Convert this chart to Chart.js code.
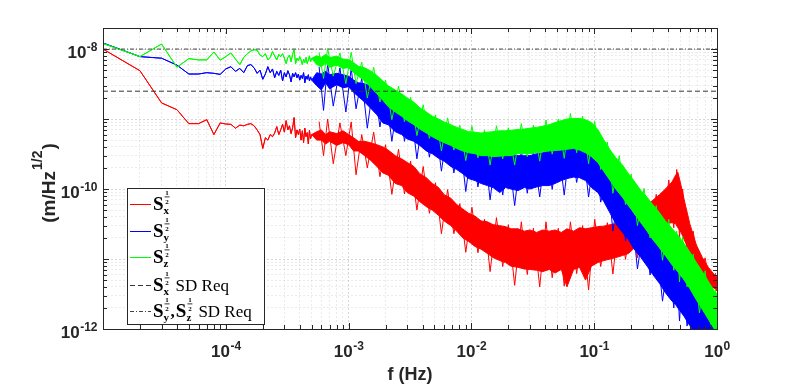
<!DOCTYPE html>
<html>
<head>
<meta charset="utf-8">
<script src="https://cdn.jsdelivr.net/npm/chart.js@4.4.1/dist/chart.umd.min.js"></script>
<style>
  html, body { margin: 0; padding: 0; background: #fff; }
  #chart { display: block; }
</style>
</head>
<body>
<canvas id="chart" width="793" height="387"></canvas>
<script>
// low frequency bins (1e-5 Hz resolution), single noisy line per axis
var lowFreq = [1e-5, 2e-5, 3e-5, 4e-5, 5e-5, 6e-5, 7e-5, 8e-5, 9e-5, 1e-4,
  1.1e-4, 1.2e-4, 1.3e-4, 1.4e-4, 1.5e-4, 1.6e-4, 1.7e-4, 1.8e-4, 1.9e-4, 2e-4,
  2.1e-4, 2.2e-4, 2.3e-4, 2.4e-4, 2.5e-4, 2.6e-4, 2.7e-4, 2.8e-4, 2.9e-4, 3e-4,
  3.1e-4, 3.2e-4, 3.3e-4, 3.4e-4, 3.5e-4, 3.6e-4, 3.7e-4, 3.8e-4, 3.9e-4, 4e-4,
  4.1e-4, 4.2e-4, 4.3e-4, 4.4e-4, 4.5e-4, 4.6e-4, 4.7e-4, 4.8e-4, 4.9e-4, 5e-4];

var redLow = [1.0e-8, 4.9e-9, 1.7e-9, 1.36e-9, 8.6e-10, 8.6e-10, 9.8e-10, 6.0e-10, 8.8e-10, 8.5e-10,
  8.4e-10, 7.4e-10, 8.2e-10, 8.0e-10, 8.4e-10, 8.6e-10, 8.0e-10, 7.0e-10, 6.0e-10, 3.8e-10,
  5.4e-10, 5.0e-10, 6.0e-10, 5.6e-10, 6.3e-10, 7.8e-10, 6.0e-10, 7.0e-10, 8.4e-10, 6.5e-10,
  9.5e-10, 7.0e-10, 8.0e-10, 6.2e-10, 7.5e-10, 1.05e-9, 5.4e-10, 7.0e-10, 6.0e-10, 7.2e-10,
  5.0e-10, 6.8e-10, 4.6e-10, 7.4e-10, 5.6e-10, 6.4e-10, 4.4e-10, 6.9e-10, 5.2e-10, 6.0e-10];

var blueLow = [1.22e-8, 7.8e-9, 7.4e-9, 5.9e-9, 4.4e-9, 4.4e-9, 4.6e-9, 4.5e-9, 4.35e-9, 5.2e-9,
  5.6e-9, 4.8e-9, 5.3e-9, 4.6e-9, 5.8e-9, 6.0e-9, 5.4e-9, 4.5e-9, 5.0e-9, 3.7e-9,
  4.4e-9, 5.6e-9, 4.6e-9, 5.2e-9, 3.9e-9, 4.8e-9, 4.2e-9, 5.0e-9, 3.5e-9, 4.6e-9,
  4.0e-9, 4.9e-9, 4.3e-9, 3.4e-9, 4.5e-9, 4.0e-9, 4.6e-9, 3.9e-9, 4.4e-9, 3.6e-9,
  4.2e-9, 3.8e-9, 4.6e-9, 3.3e-9, 4.1e-9, 3.7e-9, 4.3e-9, 3.5e-9, 4.0e-9, 3.6e-9];

var greenLow = [1.2e-8, 7.8e-9, 1.18e-8, 5.5e-9, 7.3e-9, 7.0e-9, 7.0e-9, 9.1e-9, 6.95e-9, 7.8e-9,
  8.8e-9, 7.2e-9, 6.0e-9, 7.6e-9, 8.6e-9, 9.4e-9, 9.8e-9, 9.6e-9, 8.2e-9, 7.8e-9,
  8.6e-9, 7.0e-9, 7.6e-9, 9.2e-9, 8.0e-9, 7.0e-9, 8.4e-9, 7.8e-9, 8.6e-9, 7.4e-9,
  6.2e-9, 7.6e-9, 8.2e-9, 6.6e-9, 8.4e-9, 9.8e-9, 6.2e-9, 7.4e-9, 6.8e-9, 7.8e-9,
  7.0e-9, 6.0e-9, 7.2e-9, 6.4e-9, 7.6e-9, 6.2e-9, 6.9e-9, 8.0e-9, 6.6e-9, 7.4e-9];

// higher frequencies: the trace is a dense band, kept as upper / lower envelope
var bandFreq = [5.5e-4, 6e-4, 6.5e-4, 7e-4, 8e-4, 9e-4,
  1e-3, 1.1e-3, 1.2e-3, 1.35e-3, 1.5e-3, 1.7e-3, 1.9e-3, 2.1e-3, 2.4e-3, 2.7e-3, 3e-3,
  3.4e-3, 3.8e-3, 4.3e-3, 4.8e-3, 5.4e-3, 6e-3, 6.8e-3, 7.6e-3, 8.5e-3, 9.5e-3,
  1.07e-2, 1.2e-2, 1.35e-2, 1.5e-2, 1.7e-2, 1.9e-2, 2.1e-2, 2.4e-2, 2.7e-2, 3e-2,
  3.4e-2, 3.8e-2, 4.3e-2, 4.8e-2, 5.4e-2, 6e-2, 6.8e-2, 7.6e-2, 8.5e-2, 9.5e-2,
  0.107, 0.12, 0.135, 0.15, 0.17, 0.19, 0.21, 0.24, 0.27, 0.30,
  0.34, 0.38, 0.43, 0.46, 0.48, 0.51, 0.54, 0.60, 0.68, 0.76, 0.85, 0.95, 1.0];

var redUpper = [6.6e-10, 7.0e-10, 6.0e-10, 6.6e-10, 6.2e-10, 6.8e-10,
  6.0e-10, 5.4e-10, 4.8e-10, 4.8e-10, 4.6e-10, 4.3e-10, 4.0e-10, 3.6e-10, 3.0e-10, 2.7e-10, 2.4e-10,
  2.1e-10, 1.66e-10, 1.45e-10, 1.2e-10, 1.05e-10, 8.3e-11, 7.4e-11, 6.0e-11, 5.2e-11, 4.5e-11,
  4.1e-11, 3.5e-11, 3.4e-11, 3.1e-11, 3.0e-11, 2.9e-11, 2.7e-11, 2.7e-11, 2.5e-11, 2.6e-11,
  2.4e-11, 2.6e-11, 2.5e-11, 2.6e-11, 2.4e-11, 2.7e-11, 2.5e-11, 2.8e-11, 2.7e-11, 2.8e-11,
  2.9e-11, 2.95e-11, 3.1e-11, 3.2e-11, 3.4e-11, 3.5e-11, 4.0e-11, 5.0e-11, 6.0e-11, 6.9e-11,
  8.3e-11, 1.0e-10, 1.26e-10, 1.58e-10, 1.74e-10, 1.12e-10, 7.1e-11, 3.2e-11, 1.58e-11, 1.05e-11, 7.6e-12, 6.0e-12, 5.5e-12];

var redLower = [5.0e-10, 5.0e-10, 4.4e-10, 4.8e-10, 4.2e-10, 4.6e-10,
  4.3e-10, 3.5e-10, 3.5e-10, 3.0e-10, 2.6e-10, 2.1e-10, 1.7e-10, 1.58e-10, 1.2e-10, 1.12e-10, 8.9e-11,
  7.9e-11, 6.6e-11, 5.6e-11, 5.0e-11, 4.2e-11, 3.5e-11, 3.0e-11, 2.5e-11, 2.0e-11, 1.78e-11,
  1.51e-11, 1.38e-11, 1.2e-11, 1.05e-11, 9.5e-12, 8.9e-12, 7.9e-12, 7.6e-12, 7.2e-12, 7.1e-12,
  6.9e-12, 6.6e-12, 7.1e-12, 6.3e-12, 7.1e-12, 4.0e-12, 7.1e-12, 7.6e-12, 5.0e-12, 7.9e-12,
  8.9e-12, 9.5e-12, 1.0e-11, 1.05e-11, 1.12e-11, 1.2e-11, 1.41e-11, 1.78e-11, 2.1e-11, 2.5e-11,
  2.8e-11, 3.2e-11, 3.3e-11, 3.2e-11, 2.8e-11, 2.4e-11, 1.9e-11, 1.26e-11, 8.3e-12, 6.0e-12, 4.5e-12, 3.8e-12, 3.5e-12];

var blueUpper = [4.6e-9, 4.4e-9, 4.8e-9, 4.3e-9, 4.5e-9, 4.3e-9,
  4.1e-9, 3.6e-9, 3.3e-9, 3.2e-9, 3.0e-9, 2.6e-9, 2.4e-9, 2.2e-9, 1.9e-9, 1.66e-9, 1.51e-9,
  1.26e-9, 1.1e-9, 9.5e-10, 8.3e-10, 7.4e-10, 6.6e-10, 5.8e-10, 5.0e-10, 4.6e-10, 4.0e-10,
  3.6e-10, 3.5e-10, 3.3e-10, 3.2e-10, 3.2e-10, 3.2e-10, 3.1e-10, 3.0e-10, 3.0e-10, 3.0e-10,
  3.2e-10, 3.3e-10, 3.5e-10, 3.6e-10, 3.8e-10, 4.0e-10, 4.2e-10, 4.0e-10, 3.6e-10, 3.2e-10,
  2.5e-10, 1.78e-10, 1.32e-10, 1.0e-10, 7.6e-11, 5.8e-11, 4.4e-11, 3.2e-11, 2.4e-11, 1.9e-11,
  1.41e-11, 1.1e-11, 8.3e-12, 7.2e-12, 6.3e-12, 5.6e-12, 5.0e-12, 4.0e-12, 2.8e-12, 2.1e-12, 1.41e-12, 1.05e-12, 1.0e-12];

var blueLower = [3.0e-9, 2.6e-9, 3.3e-9, 2.7e-9, 3.1e-9, 2.8e-9,
  2.9e-9, 2.4e-9, 2.1e-9, 1.75e-9, 1.45e-9, 1.15e-9, 8.8e-10, 8.3e-10, 6.6e-10, 6.0e-10, 5.2e-10,
  4.8e-10, 4.2e-10, 3.5e-10, 3.2e-10, 2.75e-10, 2.5e-10, 2.1e-10, 1.9e-10, 1.66e-10, 1.41e-10,
  1.32e-10, 1.2e-10, 1.12e-10, 1.05e-10, 8.9e-11, 1.05e-10, 1.0e-10, 9.5e-11, 1.05e-10, 1.0e-10,
  1.07e-10, 1.12e-10, 1.12e-10, 1.2e-10, 1.32e-10, 1.41e-10, 1.48e-10, 1.45e-10, 1.32e-10, 1.05e-10,
  8.9e-11, 6.6e-11, 4.5e-11, 3.2e-11, 2.4e-11, 1.9e-11, 1.41e-11, 1.05e-11, 7.9e-12, 6.0e-12,
  4.5e-12, 3.3e-12, 2.5e-12, 2.24e-12, 2.0e-12, 1.74e-12, 1.51e-12, 1.12e-12, 8.0e-13, 6.0e-13, 5.0e-13, 4.0e-13, 4.0e-13];

var greenUpper = [8.0e-9, 7.6e-9, 8.4e-9, 7.6e-9, 7.9e-9, 7.2e-9,
  7.1e-9, 6.4e-9, 5.7e-9, 5.4e-9, 4.9e-9, 4.2e-9, 3.5e-9, 3.0e-9, 2.6e-9, 2.3e-9, 2.0e-9,
  1.74e-9, 1.45e-9, 1.26e-9, 1.1e-9, 1.0e-9, 9.1e-10, 8.3e-10, 7.6e-10, 7.1e-10, 6.6e-10,
  6.5e-10, 6.3e-10, 6.5e-10, 6.6e-10, 6.8e-10, 6.8e-10, 6.9e-10, 7.1e-10, 7.2e-10, 7.4e-10,
  7.6e-10, 7.9e-10, 8.3e-10, 8.9e-10, 9.5e-10, 1.0e-9, 1.02e-9, 1.02e-9, 9.8e-10, 8.9e-10,
  7.1e-10, 5.0e-10, 3.6e-10, 2.8e-10, 2.2e-10, 1.66e-10, 1.32e-10, 9.5e-11, 7.6e-11, 6.0e-11,
  4.6e-11, 3.5e-11, 2.75e-11, 2.4e-11, 2.2e-11, 1.9e-11, 1.66e-11, 1.26e-11, 8.9e-12, 6.6e-12, 4.8e-12, 3.5e-12, 3.2e-12];

var greenLower = [6.0e-9, 5.6e-9, 6.3e-9, 5.5e-9, 5.9e-9, 5.3e-9,
  5.4e-9, 4.6e-9, 4.1e-9, 3.5e-9, 2.9e-9, 2.3e-9, 1.85e-9, 1.51e-9, 1.26e-9, 1.1e-9, 9.5e-10,
  8.3e-10, 7.2e-10, 6.3e-10, 5.6e-10, 5.0e-10, 4.6e-10, 4.2e-10, 3.8e-10, 3.5e-10, 3.3e-10,
  3.2e-10, 3.0e-10, 3.0e-10, 2.9e-10, 2.95e-10, 3.0e-10, 3.0e-10, 3.2e-10, 3.2e-10, 3.2e-10,
  3.3e-10, 3.4e-10, 3.5e-10, 3.55e-10, 3.6e-10, 3.7e-10, 3.8e-10, 3.6e-10, 3.3e-10, 2.9e-10,
  2.4e-10, 1.78e-10, 1.32e-10, 1.0e-10, 7.6e-11, 5.8e-11, 4.6e-11, 3.3e-11, 2.5e-11, 1.9e-11,
  1.45e-11, 1.12e-11, 8.3e-12, 7.2e-12, 6.6e-12, 5.8e-12, 5.0e-12, 3.8e-12, 2.6e-12, 1.9e-12, 1.38e-12, 1.0e-12, 8.9e-13];

// spike tips poking out of the bands, alternately above and below
var spikeFreq = [5.75e-4, 6.25e-4, 6.75e-4, 7.5e-4, 8.5e-4, 9.5e-4,
  1.05e-3, 1.15e-3, 1.28e-3, 1.42e-3, 1.6e-3, 1.8e-3, 2.0e-3, 2.25e-3, 2.55e-3, 2.85e-3,
  3.2e-3, 3.6e-3, 4.05e-3, 4.55e-3, 5.1e-3, 5.7e-3, 6.4e-3, 7.2e-3, 8.05e-3, 9.0e-3,
  1.01e-2, 1.13e-2, 1.28e-2, 1.42e-2, 1.6e-2, 1.8e-2, 2.0e-2, 2.25e-2, 2.55e-2, 2.85e-2,
  3.2e-2, 3.6e-2, 4.05e-2, 4.55e-2, 5.1e-2, 5.7e-2, 6.4e-2, 7.2e-2, 8.05e-2, 9.0e-2,
  0.101, 0.113, 0.128, 0.142, 0.16, 0.18, 0.20, 0.225, 0.255, 0.285,
  0.32, 0.36, 0.405, 0.445, 0.47, 0.495, 0.525, 0.57, 0.64, 0.72, 0.80, 0.90, 0.975];

var redSpike = [9.2e-10, 3.0e-10, 1.0e-9, 2.3e-10, 8.8e-10, 3.0e-10,
  9.1e-10, 1.6e-10, 6.0e-10, 2.0e-10, 6.5e-10, 1.5e-10, 4.3e-10, 8.4e-11, 3.7e-10, 8.5e-11,
  2.5e-10, 5.0e-11, 2.1e-10, 4.5e-11, 1.23e-10, 2.3e-11, 9.8e-11, 2.3e-11, 6.2e-11, 1.25e-11,
  5.5e-11, 1.23e-11, 3.7e-11, 6.6e-12, 3.9e-11, 7.8e-12, 3.1e-11, 4.2e-12, 3.4e-11, 6.0e-12,
  2.75e-11, 4.0e-12, 3.4e-11, 5.4e-12, 2.75e-11, 4.1e-12, 3.4e-11, 6.2e-12, 3.0e-11, 3.6e-12,
  3.7e-11, 7.8e-12, 3.3e-11, 6.1e-12, 4.2e-11, 9.9e-12, 4.1e-11, 1.04e-11, 6.9e-11, 2.0e-11,
  8.4e-11, 2.1e-11, 1.35e-10, 2.8e-11, 1.9e-10, 2.0e-11, 1.0e-10, 1.25e-11, 2.5e-11, 5.6e-12, 1.04e-11, 3.5e-12, 6.3e-12];

var blueSpike = [5.6e-9, 1.33e-9, 6.2e-9, 1.53e-9, 5.4e-9, 1.26e-9,
  5.3e-9, 1.4e-9, 3.85e-9, 7.4e-10, 3.4e-9, 7.7e-10, 2.5e-9, 4.8e-10, 2.1e-9, 4.8e-10,
  1.5e-9, 2.7e-10, 1.22e-9, 2.85e-10, 8.6e-10, 1.8e-10, 7.2e-10, 1.7e-10, 5.3e-10, 9.2e-11,
  4.5e-10, 1.07e-10, 3.8e-10, 7.0e-11, 3.8e-10, 8.2e-11, 3.4e-10, 5.8e-11, 3.6e-10, 8.7e-11,
  3.4e-10, 7.7e-11, 4.1e-10, 9.9e-11, 4.1e-10, 8.2e-11, 4.9e-10, 1.24e-10, 4.2e-10, 7.7e-11,
  3.4e-10, 6.5e-11, 1.7e-10, 2.5e-11, 1.05e-10, 1.8e-11, 5.6e-11, 7.2e-12, 3.3e-11, 5.9e-12,
  1.8e-11, 2.5e-12, 1.15e-11, 2.0e-12, 7.5e-12, 1.3e-12, 6.3e-12, 1.1e-12, 3.7e-12, 5.0e-13, 2.1e-12, 4.0e-13, 1.1e-12];

var greenSpike = [9.0e-9, 3.8e-9, 1.02e-8, 4.1e-9, 8.8e-9, 3.2e-9,
  9.0e-9, 3.2e-9, 6.5e-9, 2.0e-9, 5.5e-9, 1.75e-9, 3.6e-9, 9.8e-10, 2.95e-9, 9.2e-10,
  2.05e-9, 5.8e-10, 1.6e-9, 5.3e-10, 1.15e-9, 3.5e-10, 1.04e-9, 3.6e-10, 8.1e-10, 2.55e-10,
  7.9e-10, 2.8e-10, 7.0e-10, 2.2e-10, 8.0e-10, 2.7e-10, 7.5e-10, 2.2e-10, 8.6e-10, 2.9e-10,
  8.2e-10, 2.5e-10, 9.7e-10, 3.15e-10, 1.0e-9, 2.75e-10, 1.2e-9, 3.3e-10, 1.1e-9, 2.3e-10,
  9.2e-10, 1.9e-10, 4.7e-10, 8.7e-11, 3.0e-10, 6.0e-11, 1.64e-10, 3.0e-11, 1.02e-10, 2.0e-11,
  5.8e-11, 9.6e-12, 3.7e-11, 6.9e-12, 2.5e-11, 4.7e-12, 2.1e-11, 4.0e-12, 1.18e-11, 1.7e-12, 6.8e-12, 1.08e-12, 3.7e-12];

// requirement levels
var reqX = 2.5e-9;
var reqYZ = 1.0e-8;

var xTickValues = [1e-4, 1e-3, 1e-2, 1e-1, 1];
var xTickExps = ['-4', '-3', '-2', '-1', '0'];
var yTickValues = [1e-12, 1e-10, 1e-8];
var yTickExps = ['-12', '-10', '-8'];

var legendSubs = [['x'], ['y'], ['z'], ['x'], ['y', 'z']];
var legendTails = ['', '', '', 'SD Req', 'SD Req'];

var SANS = '"Liberation Sans", Arial, Helvetica, sans-serif';
var SERIF = '"Liberation Serif", "Times New Roman", serif';
var AXIS_COLOR = '#262626';

function points(freqs, vals) {
  return freqs.map(function (f, i) { return { x: f, y: vals[i] }; });
}

var allFreq = lowFreq.concat(bandFreq);

function bandSet(name, color, low, upper, lower, spikes, order) {
  var common = { borderColor: color, backgroundColor: color, borderWidth: 1, order: order };
  return [
    Object.assign({ label: name, data: points(allFreq, low.concat(upper)), fill: false }, common),
    Object.assign({ label: name + ' lower', data: points(allFreq, low.concat(lower)), fill: '-1' }, common),
    Object.assign({ label: name + ' spikes', data: points(spikeFreq, spikes), fill: false }, common)
  ];
}

var datasets = [{
  label: 'Sx SD Req',
  data: points([1e-5, 1], [reqX, reqX]),
  borderColor: '#333333',
  borderWidth: 1,
  borderDash: [5, 3],
  fill: false,
  order: 0
}, {
  label: 'Sy,Sz SD Req',
  data: points([1e-5, 1], [reqYZ, reqYZ]),
  borderColor: '#444444',
  borderWidth: 1,
  borderDash: [4, 2, 1, 2],
  fill: false,
  order: 0
}]
  .concat(bandSet('Sz', '#00ff00', greenLow, greenUpper, greenLower, greenSpike, 1))
  .concat(bandSet('Sy', '#0000ff', blueLow, blueUpper, blueLower, blueSpike, 2))
  .concat(bandSet('Sx', '#ff0000', redLow, redUpper, redLower, redSpike, 3));

// which dataset each legend row takes its line style from
var legendDatasetIndex = [8, 5, 2, 0, 1];

function decadeTicks(min, max) {
  var ticks = [];
  for (var e = Math.floor(Math.log10(min)); e <= Math.ceil(Math.log10(max)); e++) {
    for (var m = 1; m <= 9; m++) {
      var v = m * Math.pow(10, e);
      if (v < min * 0.999 || v > max * 1.001) continue;
      ticks.push({ value: v, major: m === 1 });
    }
  }
  return ticks;
}

// "10" with a raised exponent; align is 'center' or 'right'
function drawPow(ctx, x, base, exp, align) {
  var big = 'bold 17px ' + SANS, small = 'bold 12px ' + SANS;
  ctx.font = big;
  var wb = ctx.measureText('10').width;
  ctx.font = small;
  var we = ctx.measureText(exp).width;
  var x0 = align === 'right' ? x - wb - we : x - (wb + we) / 2;
  ctx.font = big;
  ctx.fillText('10', x0, base);
  ctx.font = small;
  ctx.fillText(exp, x0 + wb + 0.5, base - 7);
}

// inward ticks on all four sides, the box and the tick labels
var axisBox = {
  id: 'axisBox',
  afterDatasetsDraw: function (chart) {
    var ctx = chart.ctx, a = chart.chartArea;
    var xs = chart.scales.x, ys = chart.scales.y;
    ctx.save();
    ctx.strokeStyle = AXIS_COLOR;
    ctx.lineWidth = 1;
    ctx.beginPath();
    xs.ticks.forEach(function (t) {
      var px = Math.round(xs.getPixelForValue(t.value)) + 0.5;
      var len = t.major ? 6 : 4;
      ctx.moveTo(px, a.bottom); ctx.lineTo(px, a.bottom - len);
      ctx.moveTo(px, a.top); ctx.lineTo(px, a.top + len);
    });
    ys.ticks.forEach(function (t) {
      var py = Math.round(ys.getPixelForValue(t.value)) + 0.5;
      var len = t.major ? 6 : 4;
      ctx.moveTo(a.left, py); ctx.lineTo(a.left + len, py);
      ctx.moveTo(a.right, py); ctx.lineTo(a.right - len, py);
    });
    ctx.stroke();
    ctx.strokeRect(Math.round(a.left) + 0.5, Math.round(a.top) + 0.5,
      Math.round(a.right - a.left), Math.round(a.bottom - a.top));

    ctx.fillStyle = AXIS_COLOR;
    ctx.textBaseline = 'alphabetic';
    ctx.textAlign = 'left';
    xTickValues.forEach(function (v, i) {
      drawPow(ctx, xs.getPixelForValue(v), a.bottom + 28, xTickExps[i], 'center');
    });
    yTickValues.forEach(function (v, i) {
      drawPow(ctx, a.left - 6, ys.getPixelForValue(v) + 9, yTickExps[i], 'right');
    });
    ctx.restore();
  }
};

var yTitle = {
  id: 'yTitle',
  afterDraw: function (chart) {
    var ctx = chart.ctx;
    var big = 'bold 19px ' + SANS;
    var small = 'bold 14px ' + SANS;
    ctx.save();
    ctx.translate(50, 184);
    ctx.rotate(-Math.PI / 2);
    ctx.fillStyle = AXIS_COLOR;
    ctx.textBaseline = 'middle';
    ctx.font = big;
    var w1 = ctx.measureText('(m/Hz').width;
    var w3 = ctx.measureText(')').width;
    ctx.font = small;
    var w2 = ctx.measureText('1/2').width;
    var xx = -(w1 + w2 + w3) / 2;
    ctx.font = big;
    ctx.fillText('(m/Hz', xx, 0);
    xx += w1 + 1;
    ctx.font = small;
    ctx.fillText('1/2', xx, -12);
    xx += w2 + 1;
    ctx.font = big;
    ctx.fillText(')', xx, 0);
    ctx.restore();
  }
};

// S with a subscript and a small stacked 1/2 exponent, returns the width used
function drawS(ctx, x, base, sub) {
  ctx.font = 'bold 19px ' + SERIF;
  ctx.fillText('S', x, base);
  var ws = ctx.measureText('S').width;
  ctx.font = 'bold 11px ' + SERIF;
  ctx.fillText(sub, x + ws, base + 4);
  var wsub = ctx.measureText(sub).width;
  ctx.font = 'bold 7px ' + SERIF;
  var fx = x + ws + 1;
  ctx.textAlign = 'center';
  ctx.fillText('1', fx + 2.5, base - 15);
  ctx.fillRect(fx, base - 13.5, 5, 0.8);
  ctx.fillText('2', fx + 2.5, base - 6.5);
  ctx.textAlign = 'left';
  return ws + Math.max(wsub, 6) + 1;
}

var legendBox = {
  id: 'legendBox',
  afterDraw: function (chart) {
    var ctx = chart.ctx;
    var box = { left: 127.5, top: 188.5, right: 264.5, bottom: 324.5 };
    var rows = [204, 231, 257, 285, 311];
    ctx.save();
    ctx.fillStyle = '#ffffff';
    ctx.fillRect(box.left, box.top, box.right - box.left, box.bottom - box.top);
    ctx.strokeStyle = AXIS_COLOR;
    ctx.lineWidth = 1;
    ctx.strokeRect(box.left, box.top, box.right - box.left, box.bottom - box.top);
    legendSubs.forEach(function (subs, i) {
      var ds = chart.data.datasets[legendDatasetIndex[i]];
      var y = rows[i] + 0.5;
      ctx.strokeStyle = ds.borderColor;
      ctx.lineWidth = 1;
      ctx.setLineDash(ds.borderDash || []);
      ctx.beginPath();
      ctx.moveTo(130, y);
      ctx.lineTo(151, y);
      ctx.stroke();
      ctx.setLineDash([]);
      ctx.fillStyle = '#000000';
      ctx.textBaseline = 'alphabetic';
      var x = 153;
      var base = rows[i] + 6;
      subs.forEach(function (s, j) {
        if (j > 0) {
          ctx.font = 'bold 17px ' + SERIF;
          ctx.fillText(',', x, base);
          x += ctx.measureText(',').width + 1;
        }
        x += drawS(ctx, x, base, s);
      });
      if (legendTails[i]) {
        ctx.font = '17px ' + SERIF;
        ctx.fillText(legendTails[i], x + 5, base);
      }
    });
    ctx.restore();
  }
};

var ctx = document.getElementById('chart').getContext('2d');
var chart = new Chart(ctx, {
  type: 'line',
  data: { datasets: datasets },
  plugins: [axisBox, yTitle, legendBox],
  options: {
    responsive: false,
    animation: false,
    layout: { padding: { left: 0, right: 76, top: 28, bottom: 0 } },
    elements: { point: { radius: 0 }, line: { tension: 0 } },
    plugins: { legend: { display: false }, tooltip: { enabled: false } },
    scales: {
      x: {
        type: 'logarithmic',
        min: 1e-5,
        max: 1,
        afterBuildTicks: function (scale) { scale.ticks = decadeTicks(1e-5, 1); },
        afterFit: function (scale) { scale.height = 58; },
        grid: {
          drawTicks: false,
          color: function (c) { return c.tick && c.tick.major ? 'rgba(0,0,0,0.16)' : 'rgba(0,0,0,0.08)'; }
        },
        border: { display: false, dash: [2, 2] },
        ticks: { display: false },
        title: {
          display: true,
          text: 'f (Hz)',
          color: AXIS_COLOR,
          font: { family: SANS, size: 18, weight: 'bold' },
          padding: { top: 0, bottom: 1 }
        }
      },
      y: {
        type: 'logarithmic',
        min: 1e-12,
        max: 2e-8,
        afterBuildTicks: function (scale) { scale.ticks = decadeTicks(1e-12, 2e-8); },
        afterFit: function (scale) { scale.width = 103; },
        grid: {
          drawTicks: false,
          color: function (c) { return c.tick && c.tick.major ? 'rgba(0,0,0,0.16)' : 'rgba(0,0,0,0.08)'; }
        },
        border: { display: false, dash: [2, 2] },
        ticks: { display: false }
      }
    }
  }
});
</script>
</body>
</html>
